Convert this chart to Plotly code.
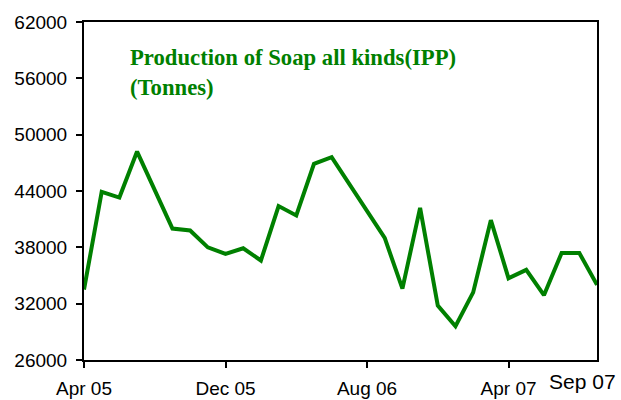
import plotly.graph_objects as go

# Monthly production of soap, all kinds (IPP), in tonnes: Apr 2005 - Sep 2007
months = [
    "Apr 05", "May 05", "Jun 05", "Jul 05", "Aug 05", "Sep 05", "Oct 05", "Nov 05",
    "Dec 05", "Jan 06", "Feb 06", "Mar 06", "Apr 06", "May 06", "Jun 06", "Jul 06",
    "Aug 06", "Sep 06", "Oct 06", "Nov 06", "Dec 06", "Jan 07", "Feb 07", "Mar 07",
    "Apr 07", "May 07", "Jun 07", "Jul 07", "Aug 07", "Sep 07",
]
production = [
    33500, 43900, 43300, 48200, 44100, 40000, 39800, 38000,
    37300, 37900, 36600, 42400, 41400, 46900, 47600, 44700,
    41800, 39000, 33600, 42200, 31800, 29600, 33200, 40900,
    34700, 35600, 32900, 37400, 37400, 34000,
]
tick_months = ["Apr 05", "Dec 05", "Aug 06", "Apr 07"]
y_ticks = [26000, 32000, 38000, 44000, 50000, 56000, 62000]

GREEN = "#008000"

fig = go.Figure(
    go.Scatter(
        x=months,
        y=production,
        mode="lines",
        line=dict(color=GREEN, width=4),
        hoverinfo="x+y",
    )
)

fig.update_layout(
    width=621,
    height=400,
    margin=dict(l=84, r=24, t=22, b=40, autoexpand=False),
    paper_bgcolor="white",
    plot_bgcolor="white",
    showlegend=False,
    font=dict(family="Liberation Sans, Arial, sans-serif", color="black"),
)

fig.update_xaxes(
    type="category",
    range=[0, len(months) - 1],
    tickmode="array",
    tickvals=tick_months,
    ticktext=tick_months,
    ticks="outside",
    ticklen=6,
    tickwidth=2,
    tickcolor="black",
    tickfont=dict(size=19),
    ticklabelstandoff=4,
    showline=True,
    linecolor="black",
    linewidth=2,
    mirror=True,
    showgrid=False,
    zeroline=False,
    automargin=False,
)

fig.update_yaxes(
    range=[26000, 62000],
    tickmode="array",
    tickvals=y_ticks,
    ticktext=[str(v) for v in y_ticks],
    ticks="outside",
    ticklen=6,
    tickwidth=2,
    tickcolor="black",
    tickfont=dict(size=19),
    ticklabelstandoff=5,
    showline=True,
    linecolor="black",
    linewidth=2,
    mirror=True,
    showgrid=False,
    zeroline=False,
    automargin=False,
)

# Final month label sits at the right end of the axis
fig.add_annotation(
    x=months[-1], y=0, xref="x", yref="paper",
    text=months[-1], showarrow=False,
    xanchor="center", yanchor="top",
    xshift=-15, yshift=-8,
    font=dict(size=21, color="black", family="Liberation Sans, Arial, sans-serif"),
)

# Chart title inside the plot area
fig.add_annotation(
    x=0.086, y=0.938, xref="paper", yref="paper",
    text="<b>Production of Soap all kinds(IPP)<br>(Tonnes)</b>",
    showarrow=False, align="left",
    xanchor="left", yanchor="top",
    font=dict(size=22.7, color=GREEN, family="Liberation Serif, Times New Roman, serif"),
)

fig.write_html("out.html")
